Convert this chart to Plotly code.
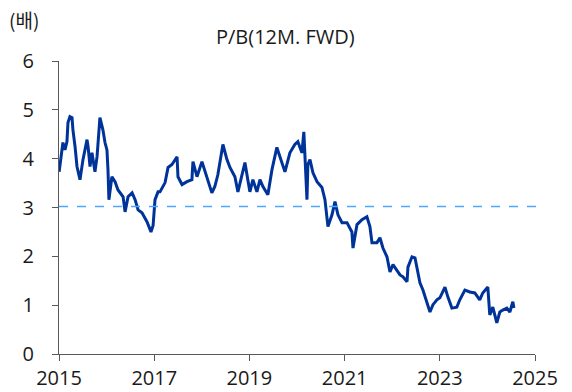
import plotly.graph_objects as go

# P/B (12M forward) history
dates = [
    "2015-01-02", "2015-01-09", "2015-01-16", "2015-01-31", "2015-02-16", "2015-03-03",
    "2015-03-11", "2015-03-26", "2015-04-11", "2015-04-18", "2015-05-04", "2015-05-19",
    "2015-06-11", "2015-07-04", "2015-08-04", "2015-08-12", "2015-08-27", "2015-09-11",
    "2015-10-04", "2015-10-20", "2015-11-11", "2015-12-04", "2015-12-20", "2016-01-04",
    "2016-01-12", "2016-01-19", "2016-02-11", "2016-03-06", "2016-03-29", "2016-05-07",
    "2016-05-22", "2016-06-14", "2016-07-15", "2016-08-07", "2016-08-30", "2016-09-29",
    "2016-11-06", "2016-11-22", "2016-12-07", "2016-12-23", "2017-01-07", "2017-01-30",
    "2017-02-14", "2017-03-25", "2017-04-17", "2017-05-17", "2017-06-25", "2017-07-02",
    "2017-08-02", "2017-09-09", "2017-10-17", "2017-10-25", "2017-11-25", "2018-01-02",
    "2018-01-25", "2018-02-17", "2018-03-19", "2018-04-11", "2018-05-04", "2018-06-12",
    "2018-07-13", "2018-08-05", "2018-09-12", "2018-10-05", "2018-11-12", "2018-11-28",
    "2018-12-20", "2019-01-05", "2019-01-28", "2019-02-28", "2019-03-23", "2019-04-15",
    "2019-05-23", "2019-06-23", "2019-07-31", "2019-08-23", "2019-10-01", "2019-11-08",
    "2019-12-16", "2020-01-08", "2020-02-08", "2020-02-23", "2020-03-10", "2020-03-18",
    "2020-03-25", "2020-04-10", "2020-05-03", "2020-06-03", "2020-07-11", "2020-08-03",
    "2020-08-26", "2020-09-26", "2020-10-19", "2020-11-11", "2020-12-12", "2021-01-19",
    "2021-02-26", "2021-03-06", "2021-04-06", "2021-05-14", "2021-06-21", "2021-07-14",
    "2021-07-30", "2021-09-06", "2021-09-29", "2021-10-22", "2021-11-22", "2021-12-15",
    "2022-01-07", "2022-02-07", "2022-03-02", "2022-03-25", "2022-04-25", "2022-05-02",
    "2022-06-02", "2022-06-25", "2022-07-10", "2022-08-02", "2022-08-25", "2022-09-25",
    "2022-10-18", "2022-11-10", "2022-12-10", "2023-01-02", "2023-02-10", "2023-03-04",
    "2023-04-04", "2023-05-12", "2023-06-04", "2023-07-13", "2023-08-20", "2023-09-27",
    "2023-11-04", "2023-11-27", "2024-01-05", "2024-01-20", "2024-02-12", "2024-03-14",
    "2024-04-06", "2024-04-29", "2024-05-30", "2024-06-22", "2024-07-15", "2024-07-23",
]
pb_values = [
    3.73, 3.88, 3.98, 4.33, 4.18, 4.35,
    4.74, 4.86, 4.84, 4.59, 4.25, 3.84,
    3.57, 3.98, 4.39, 4.25, 3.84, 4.12,
    3.73, 4.04, 4.84, 4.59, 4.33, 4.18,
    3.77, 3.16, 3.63, 3.53, 3.36, 3.22,
    2.91, 3.22, 3.30, 3.16, 2.95, 2.89,
    2.71, 2.58, 2.50, 2.63, 3.16, 3.32,
    3.32, 3.51, 3.82, 3.88, 4.04, 3.63,
    3.47, 3.53, 3.57, 3.94, 3.63, 3.94,
    3.73, 3.57, 3.30, 3.43, 3.67, 4.29,
    3.98, 3.82, 3.63, 3.32, 3.77, 3.92,
    3.57, 3.32, 3.57, 3.32, 3.57, 3.43,
    3.26, 3.77, 4.23, 4.04, 3.73, 4.12,
    4.29, 4.35, 4.12, 4.55, 3.77, 3.16,
    3.88, 3.98, 3.71, 3.53, 3.41, 3.16,
    2.61, 2.85, 3.12, 2.85, 2.69, 2.69,
    2.50, 2.17, 2.65, 2.75, 2.81, 2.61,
    2.28, 2.28, 2.38, 2.17, 1.99, 1.68,
    1.83, 1.72, 1.62, 1.58, 1.48, 1.78,
    1.99, 1.97, 1.78, 1.46, 1.31, 1.07,
    0.86, 1.01, 1.11, 1.15, 1.37, 1.17,
    0.94, 0.96, 1.11, 1.31, 1.27, 1.25,
    1.11, 1.25, 1.37, 0.80, 0.96, 0.64,
    0.86, 0.90, 0.94, 0.86, 1.07, 0.94,
]
pb_average = 3.02

y_ticks = [0, 1, 2, 3, 4, 5, 6]
x_ticks = ["2015-01-01", "2017-01-01", "2019-01-01", "2021-01-01", "2023-01-01", "2025-01-01"]
x_tick_labels = ["2015", "2017", "2019", "2021", "2023", "2025"]

FONT = "Open Sans, Noto Sans CJK KR, sans-serif"
TEXT_COLOR = "#1a1a1a"
AXIS_COLOR = "#595959"

fig = go.Figure()
fig.add_trace(go.Scatter(
    x=dates, y=pb_values, mode="lines",
    line=dict(color="#003399", width=3),
    showlegend=False, hoverinfo="x+y",
))

# long-run average reference line
fig.add_shape(
    type="line", xref="paper", yref="y",
    x0=0, x1=1.01, y0=pb_average, y1=pb_average,
    line=dict(color="#4da6ff", width=1.5, dash="dash"),
)

fig.add_annotation(
    text="P/B(12M. FWD)", xref="paper", yref="paper",
    x=0.475, y=1.084, xanchor="center", yanchor="middle",
    showarrow=False, font=dict(family=FONT, size=20, color=TEXT_COLOR),
)
fig.add_annotation(
    text="(배)", xref="paper", yref="paper",
    x=-0.11, y=1.142, xanchor="left", yanchor="middle",
    showarrow=False, font=dict(family="Noto Sans CJK KR", size=19, color=TEXT_COLOR),
)

fig.update_layout(
    width=572, height=392,
    margin=dict(l=59, r=37, t=61, b=38),
    paper_bgcolor="white", plot_bgcolor="white",
    font=dict(family=FONT, size=20, color=TEXT_COLOR),
)
fig.update_xaxes(
    type="date", range=["2015-01-01", "2025-01-01"],
    tickmode="array", tickvals=x_ticks, ticktext=x_tick_labels,
    showgrid=False, zeroline=False, automargin=False,
    showline=True, linecolor=AXIS_COLOR, linewidth=1,
    ticks="outside", ticklen=6, tickcolor=AXIS_COLOR,
    tickfont=dict(size=20),
)
fig.update_yaxes(
    range=[0, 6], tickmode="array", tickvals=y_ticks,
    showgrid=False, zeroline=False, automargin=False,
    showline=True, linecolor=AXIS_COLOR, linewidth=1,
    ticks="outside", ticklen=6, tickcolor=AXIS_COLOR,
    ticklabelstandoff=14, tickfont=dict(size=20),
)

fig.write_html("out.html")
